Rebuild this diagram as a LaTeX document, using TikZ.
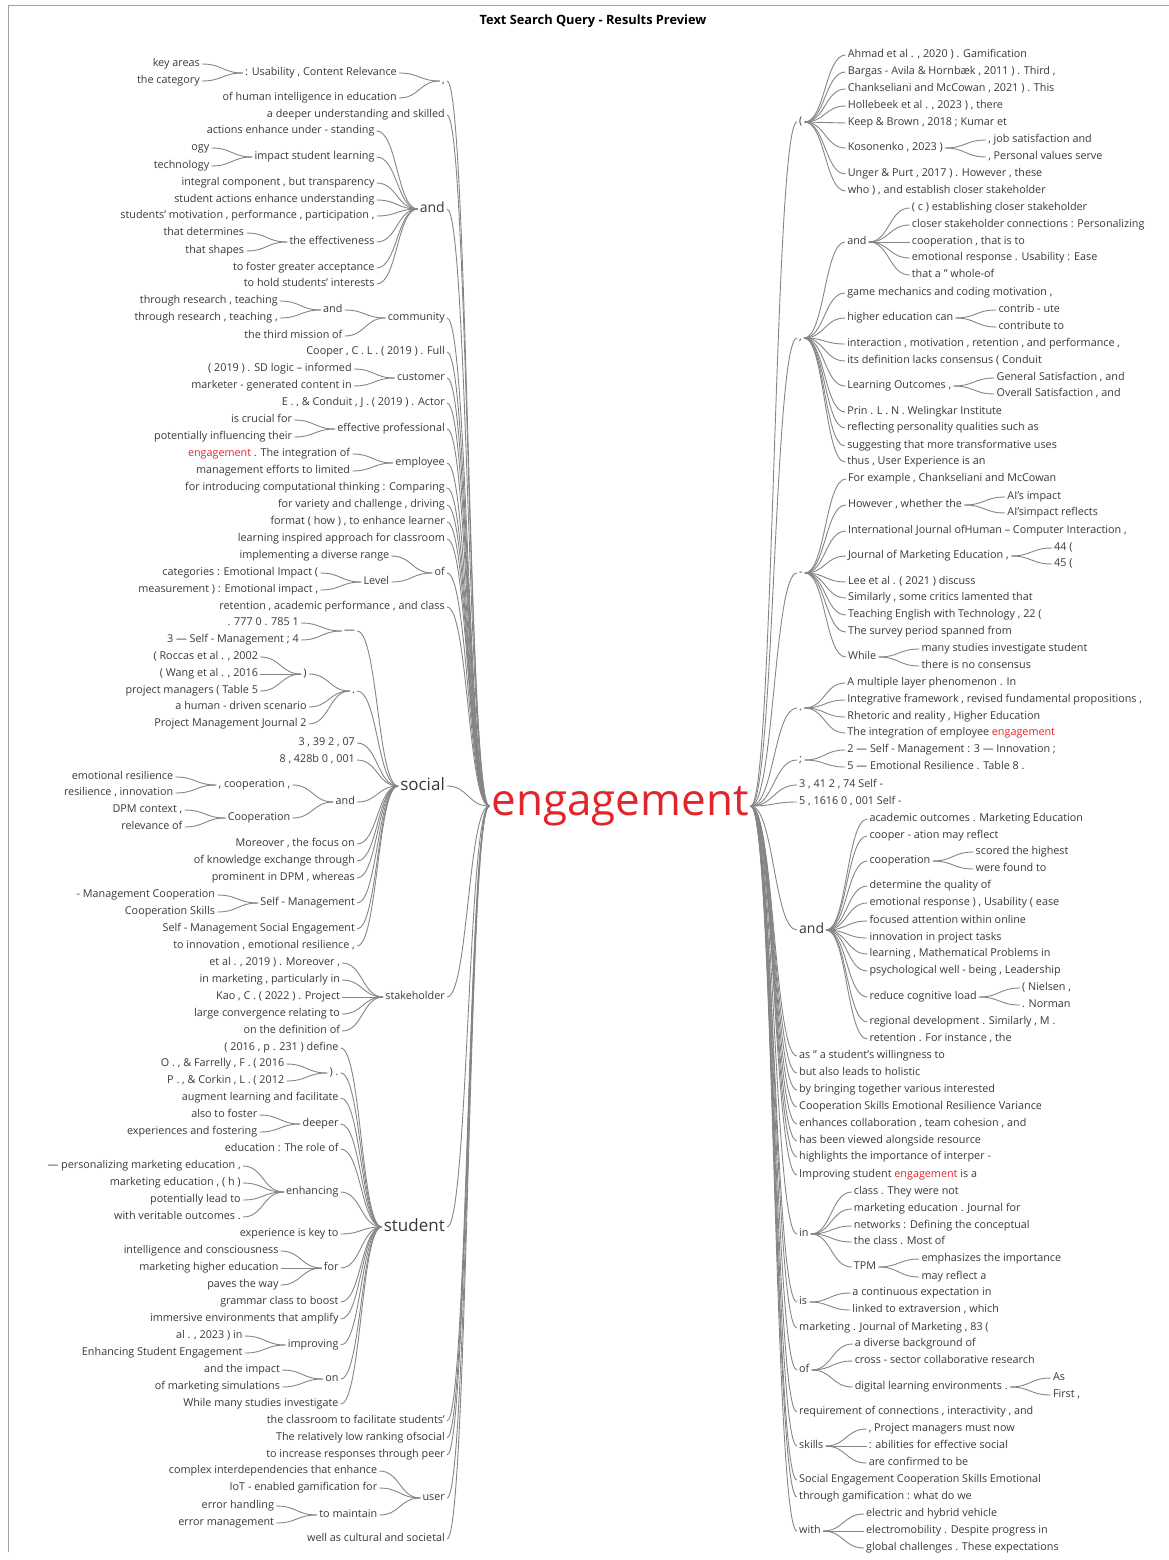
\documentclass[tikz,border=0pt]{standalone}
\usepackage{fontspec}
\setmainfont{Open Sans}
\usetikzlibrary{calc}
\definecolor{txt}{HTML}{383838}
\definecolor{hl}{HTML}{E0262B}
\definecolor{lnk}{HTML}{858585}
\definecolor{frm}{HTML}{A0A0A0}
\newcommand\HW{\textcolor{hl}{engagement}}
\def\GAP{41pt}
\tikzset{
  wt/.style={font=\fontsize{10.8}{12.5}\selectfont, text=txt, inner xsep=2pt, inner ysep=0pt, text height=7.9pt, text depth=2.3pt},
  md/.style={font=\fontsize{14}{16}\selectfont, text height=10.4pt, text depth=3pt},
  bg/.style={font=\fontsize{17}{20}\selectfont, text height=12.6pt, text depth=3.6pt},
  link/.style={draw=lnk, line width=0.9pt},
}
% curved connectors of the word tree
\newcommand\LEdge[2]{\draw[link] let \p1=(#1.west), \p2=(#2.east) in (\p1) .. controls ({(\x1+\x2)/2},\y1) and ({(\x1+\x2)/2},\y2) .. (\p2);}
\newcommand\REdge[2]{\draw[link] let \p1=(#1.east), \p2=(#2.west) in (\p1) .. controls ({(\x1+\x2)/2},\y1) and ({(\x1+\x2)/2},\y2) .. (\p2);}
% first level branches, hanging off the root word
\newcommand\LTop[4][]{\node[wt,anchor=east,#1] (#2) at (447,#3) {#4};\LEdge{root}{#2}}
\newcommand\RTop[4][]{\node[wt,anchor=west,#1] (#2) at (797,#3) {#4};\REdge{root}{#2}}
% deeper branches, placed a fixed gap away from their parent
\newcommand\LNode[5][]{\path let \p1=(#3.west) in node[wt,anchor=east,#1] (#2) at (\x1-\GAP,-#4pt) {#5};\LEdge{#3}{#2}}
\newcommand\RNode[5][]{\path let \p1=(#3.east) in node[wt,anchor=west,#1] (#2) at (\x1+\GAP,-#4pt) {#5};\REdge{#3}{#2}}
\begin{document}
\begin{tikzpicture}[x=1pt,y=-1pt]
\useasboundingbox (0,0) rectangle (1169,1560);
\draw[frm, line width=1pt] (8,1552) -- (8,6) -- (1169,6);
\node[font=\bfseries\fontsize{12.8}{15}\selectfont, text=black] (title) at (593,21) {Text Search Query - Results Preview};
\node[font=\fontsize{44}{48}\selectfont, text=hl, inner sep=2pt] (root) at (620,806) {engagement};

% ---------------- left side ----------------
\LTop{La}{81}{,}
\LNode{La1}{La}{73}{: Usability , Content Relevance}
\LNode{La1a}{La1}{64}{key areas}
\LNode{La1b}{La1}{81}{the category}
\LNode{La2}{La}{98}{of human intelligence in education}
\LTop{Lb}{115}{a deeper understanding and skilled}
\LTop[md]{Lc}{209}{and}
\LNode{Lc1}{Lc}{131}{actions enhance under - standing}
\LNode{Lc2}{Lc}{157}{impact student learning}
\LNode{Lc2a}{Lc2}{148}{ogy}
\LNode{Lc2b}{Lc2}{166}{technology}
\LNode{Lc3}{Lc}{183}{integral component , but transparency}
\LNode{Lc4}{Lc}{200}{student actions enhance understanding}
\LNode{Lc5}{Lc}{216}{students' motivation , performance , participation ,}
\LNode{Lc6}{Lc}{242}{the effectiveness}
\LNode{Lc6a}{Lc6}{233}{that determines}
\LNode{Lc6b}{Lc6}{251}{that shapes}
\LNode{Lc7}{Lc}{268}{to foster greater acceptance}
\LNode{Lc8}{Lc}{284}{to hold students' interests}
\LTop{Ld}{318}{community}
\LNode{Ld1}{Ld}{310}{and}
\LNode{Ld1a}{Ld1}{301}{through research , teaching}
\LNode{Ld1b}{Ld1}{318}{through research , teaching ,}
\LNode{Ld2}{Ld}{336}{the third mission of}
\LTop{Le}{352}{Cooper , C . L . ( 2019 ) . Full}
\LTop{Lf}{378}{customer}
\LNode{Lf1}{Lf}{369}{( 2019 ) . SD logic – informed}
\LNode{Lf2}{Lf}{386}{marketer - generated content in}
\LTop{Lg}{403}{E . , \& Conduit , J . ( 2019 ) . Actor}
\LTop{Lh}{429}{effective professional}
\LNode{Lh1}{Lh}{420}{is crucial for}
\LNode{Lh2}{Lh}{437}{potentially influencing their}
\LTop{Li}{463}{employee}
\LNode{Li1}{Li}{454}{\HW{} . The integration of}
\LNode{Li2}{Li}{471}{management efforts to limited}
\LTop{Lj}{488}{for introducing computational thinking : Comparing}
\LTop{Lk}{505}{for variety and challenge , driving}
\LTop{Ll}{522}{format ( how ) , to enhance learner}
\LTop{Lm}{539}{learning inspired approach for classroom}
\LTop{Ln}{573}{of}
\LNode{Ln1}{Ln}{556}{implementing a diverse range}
\LNode{Ln2}{Ln}{582}{Level}
\LNode{Ln2a}{Ln2}{573}{categories : Emotional Impact (}
\LNode{Ln2b}{Ln2}{590}{measurement ) : Emotional impact ,}
\LTop{Lo}{607}{retention , academic performance , and class}
\LTop[bg]{Lp}{786}{social}
\LNode{Lp1}{Lp}{631}{—}
\LNode{Lp1a}{Lp1}{623}{. 777 0 . 785 1}
\LNode{Lp1b}{Lp1}{640}{3 — Self - Management ; 4}
\LNode{Lp2}{Lp}{691}{.}
\LNode{Lp2a}{Lp2}{674}{)}
\LNode{Lp2a1}{Lp2a}{657}{( Roccas et al . , 2002}
\LNode{Lp2a2}{Lp2a}{674}{( Wang et al . , 2016}
\LNode{Lp2a3}{Lp2a}{691}{project managers ( Table 5}
\LNode{Lp2b}{Lp2}{707}{a human - driven scenario}
\LNode{Lp2c}{Lp2}{724}{Project Management Journal 2}
\LNode{Lp3}{Lp}{743}{3 , 39 2 , 07}
\LNode{Lp4}{Lp}{760}{8 , 428b 0 , 001}
\LNode{Lp5}{Lp}{802}{and}
\LNode{Lp5a}{Lp5}{785}{, cooperation ,}
\LNode{Lp5a1}{Lp5a}{777}{emotional resilience}
\LNode{Lp5a2}{Lp5a}{793}{resilience , innovation}
\LNode{Lp5b}{Lp5}{818}{Cooperation}
\LNode{Lp5b1}{Lp5b}{810}{DPM context ,}
\LNode{Lp5b2}{Lp5b}{827}{relevance of}
\LNode{Lp6}{Lp}{844}{Moreover , the focus on}
\LNode{Lp7}{Lp}{861}{of knowledge exchange through}
\LNode{Lp8}{Lp}{878}{prominent in DPM , whereas}
\LNode{Lp9}{Lp}{903}{Self - Management}
\LNode{Lp9a}{Lp9}{895}{- Management Cooperation}
\LNode{Lp9b}{Lp9}{912}{Cooperation Skills}
\LNode{Lp10}{Lp}{929}{Self - Management Social Engagement}
\LNode{Lp11}{Lp}{946}{to innovation , emotional resilience ,}
\LTop{Lq}{997}{stakeholder}
\LNode{Lq1}{Lq}{963}{et al . , 2019 ) . Moreover ,}
\LNode{Lq2}{Lq}{980}{in marketing , particularly in}
\LNode{Lq3}{Lq}{997}{Kao , C . ( 2022 ) . Project}
\LNode{Lq4}{Lq}{1014}{large convergence relating to}
\LNode{Lq5}{Lq}{1031}{on the definition of}
\LTop[bg]{Lr}{1227}{student}
\LNode{Lr1}{Lr}{1048}{( 2016 , p . 231 ) define}
\LNode{Lr2}{Lr}{1073}{) .}
\LNode{Lr2a}{Lr2}{1064}{O . , \& Farrelly , F . ( 2016}
\LNode{Lr2b}{Lr2}{1081}{P . , \& Corkin , L . ( 2012}
\LNode{Lr3}{Lr}{1098}{augment learning and facilitate}
\LNode{Lr4}{Lr}{1124}{deeper}
\LNode{Lr4a}{Lr4}{1115}{also to foster}
\LNode{Lr4b}{Lr4}{1132}{experiences and fostering}
\LNode{Lr5}{Lr}{1149}{education : The role of}
\LNode{Lr6}{Lr}{1192}{enhancing}
\LNode{Lr6a}{Lr6}{1166}{— personalizing marketing education ,}
\LNode{Lr6b}{Lr6}{1183}{marketing education , ( h )}
\LNode{Lr6c}{Lr6}{1200}{potentially lead to}
\LNode{Lr6d}{Lr6}{1217}{with veritable outcomes .}
\LNode{Lr7}{Lr}{1234}{experience is key to}
\LNode{Lr8}{Lr}{1268}{for}
\LNode{Lr8a}{Lr8}{1251}{intelligence and consciousness}
\LNode{Lr8b}{Lr8}{1268}{marketing higher education}
\LNode{Lr8c}{Lr8}{1285}{paves the way}
\LNode{Lr9}{Lr}{1302}{grammar class to boost}
\LNode{Lr10}{Lr}{1319}{immersive environments that amplify}
\LNode{Lr11}{Lr}{1345}{improving}
\LNode{Lr11a}{Lr11}{1336}{al . , 2023 ) in}
\LNode{Lr11b}{Lr11}{1353}{Enhancing Student Engagement}
\LNode{Lr12}{Lr}{1379}{on}
\LNode{Lr12a}{Lr12}{1370}{and the impact}
\LNode{Lr12b}{Lr12}{1387}{of marketing simulations}
\LNode{Lr13}{Lr}{1404}{While many studies investigate}
\LTop{Ls}{1421}{the classroom to facilitate students'}
\LTop{Lt}{1438}{The relatively low ranking ofsocial}
\LTop{Lu}{1455}{to increase responses through peer}
\LTop{Lv}{1498}{user}
\LNode{Lv1}{Lv}{1471}{complex interdependencies that enhance}
\LNode{Lv2}{Lv}{1488}{IoT - enabled gamification for}
\LNode{Lv3}{Lv}{1515}{to maintain}
\LNode{Lv3a}{Lv3}{1506}{error handling}
\LNode{Lv3b}{Lv3}{1523}{error management}
\LTop{Lw}{1539}{well as cultural and societal}

% ---------------- right side ----------------
\RTop{Ra}{122}{(}
\RNode{Ra1}{Ra}{55}{Ahmad et al . , 2020 ) . Gamification}
\RNode{Ra2}{Ra}{72}{Bargas - Avila \& Hornbæk , 2011 ) . Third ,}
\RNode{Ra3}{Ra}{89}{Chankseliani and McCowan , 2021 ) . This}
\RNode{Ra4}{Ra}{106}{Hollebeek et al . , 2023 ) , there}
\RNode{Ra5}{Ra}{123}{Keep \& Brown , 2018 ; Kumar et}
\RNode{Ra6}{Ra}{148}{Kosonenko , 2023 )}
\RNode{Ra6a}{Ra6}{140}{, job satisfaction and}
\RNode{Ra6b}{Ra6}{157}{, Personal values serve}
\RNode{Ra7}{Ra}{174}{Unger \& Purt , 2017 ) . However , these}
\RNode{Ra8}{Ra}{191}{who ) , and establish closer stakeholder}
\RTop{Rb}{338}{,}
\RNode{Rb1}{Rb}{242}{and}
\RNode{Rb1a}{Rb1}{208}{( c ) establishing closer stakeholder}
\RNode{Rb1b}{Rb1}{225}{closer stakeholder connections : Personalizing}
\RNode{Rb1c}{Rb1}{242}{cooperation , that is to}
\RNode{Rb1d}{Rb1}{258}{emotional response . Usability : Ease}
\RNode{Rb1e}{Rb1}{275}{that a " whole-of}
\RNode{Rb2}{Rb}{293}{game mechanics and coding motivation ,}
\RNode{Rb3}{Rb}{318}{higher education can}
\RNode{Rb3a}{Rb3}{310}{contrib - ute}
\RNode{Rb3b}{Rb3}{327}{contribute to}
\RNode{Rb4}{Rb}{344}{interaction , motivation , retention , and performance ,}
\RNode{Rb5}{Rb}{361}{its definition lacks consensus ( Conduit}
\RNode{Rb6}{Rb}{386}{Learning Outcomes ,}
\RNode{Rb6a}{Rb6}{378}{General Satisfaction , and}
\RNode{Rb6b}{Rb6}{394}{Overall Satisfaction , and}
\RNode{Rb7}{Rb}{412}{Prin . L . N . Welingkar Institute}
\RNode{Rb8}{Rb}{428}{reflecting personality qualities such as}
\RNode{Rb9}{Rb}{446}{suggesting that more transformative uses}
\RNode{Rb10}{Rb}{462}{thus , User Experience is an}
\RTop{Rc}{573}{-}
\RNode{Rc1}{Rc}{479}{For example , Chankseliani and McCowan}
\RNode{Rc2}{Rc}{505}{However , whether the}
\RNode{Rc2a}{Rc2}{497}{AI's impact}
\RNode{Rc2b}{Rc2}{513}{AI'simpact reflects}
\RNode{Rc3}{Rc}{531}{International Journal ofHuman – Computer Interaction ,}
\RNode{Rc4}{Rc}{556}{Journal of Marketing Education ,}
\RNode{Rc4a}{Rc4}{548}{44 (}
\RNode{Rc4b}{Rc4}{564}{45 (}
\RNode{Rc5}{Rc}{582}{Lee et al . ( 2021 ) discuss}
\RNode{Rc6}{Rc}{598}{Similarly , some critics lamented that}
\RNode{Rc7}{Rc}{615}{Teaching English with Technology , 22 (}
\RNode{Rc8}{Rc}{632}{The survey period spanned from}
\RNode{Rc9}{Rc}{657}{While}
\RNode{Rc9a}{Rc9}{649}{many studies investigate student}
\RNode{Rc9b}{Rc9}{666}{there is no consensus}
\RTop{Rd}{708}{.}
\RNode{Rd1}{Rd}{683}{A multiple layer phenomenon . In}
\RNode{Rd2}{Rd}{700}{Integrative framework , revised fundamental propositions ,}
\RNode{Rd3}{Rd}{717}{Rhetoric and reality , Higher Education}
\RNode{Rd4}{Rd}{733}{The integration of employee \HW}
\RTop{Re}{760}{;}
\RNode{Re1}{Re}{750}{2 — Self - Management : 3 — Innovation ;}
\RNode{Re2}{Re}{767}{5 — Emotional Resilience . Table 8 .}
\RTop{Rf}{785}{3 , 41 2 , 74 Self -}
\RTop{Rg}{802}{5 , 1616 0 , 001 Self -}
\RTop[md]{Rh}{930}{and}
\RNode{Rh1}{Rh}{819}{academic outcomes . Marketing Education}
\RNode{Rh2}{Rh}{836}{cooper - ation may reflect}
\RNode{Rh3}{Rh}{861}{cooperation}
\RNode{Rh3a}{Rh3}{852}{scored the highest}
\RNode{Rh3b}{Rh3}{869}{were found to}
\RNode{Rh4}{Rh}{886}{determine the quality of}
\RNode{Rh5}{Rh}{903}{emotional response ) , Usability ( ease}
\RNode{Rh6}{Rh}{921}{focused attention within online}
\RNode{Rh7}{Rh}{938}{innovation in project tasks}
\RNode{Rh8}{Rh}{954}{learning , Mathematical Problems in}
\RNode{Rh9}{Rh}{971}{psychological well - being , Leadership}
\RNode{Rh10}{Rh}{997}{reduce cognitive load}
\RNode{Rh10a}{Rh10}{988}{( Nielsen ,}
\RNode{Rh10b}{Rh10}{1005}{. Norman}
\RNode{Rh11}{Rh}{1022}{regional development . Similarly , M .}
\RNode{Rh12}{Rh}{1039}{retention . For instance , the}
\RTop{Ri}{1056}{as " a student's willingness to}
\RTop{Rj}{1073}{but also leads to holistic}
\RTop{Rk}{1090}{by bringing together various interested}
\RTop{Rl}{1107}{Cooperation Skills Emotional Resilience Variance}
\RTop{Rm}{1124}{enhances collaboration , team cohesion , and}
\RTop{Rn}{1141}{has been viewed alongside resource}
\RTop{Ro}{1157}{highlights the importance of interper -}
\RTop{Rp}{1175}{Improving student \HW{} is a}
\RTop{Rq}{1234}{in}
\RNode{Rq1}{Rq}{1192}{class . They were not}
\RNode{Rq2}{Rq}{1209}{marketing education . Journal for}
\RNode{Rq3}{Rq}{1226}{networks : Defining the conceptual}
\RNode{Rq4}{Rq}{1242}{the class . Most of}
\RNode{Rq5}{Rq}{1267}{TPM}
\RNode{Rq5a}{Rq5}{1259}{emphasizes the importance}
\RNode{Rq5b}{Rq5}{1277}{may reflect a}
\RTop{Rr}{1302}{is}
\RNode{Rr1}{Rr}{1293}{a continuous expectation in}
\RNode{Rr2}{Rr}{1310}{linked to extraversion , which}
\RTop{Rs}{1328}{marketing . Journal of Marketing , 83 (}
\RTop{Rt}{1370}{of}
\RNode{Rt1}{Rt}{1344}{a diverse background of}
\RNode{Rt2}{Rt}{1361}{cross - sector collaborative research}
\RNode{Rt3}{Rt}{1387}{digital learning environments .}
\RNode{Rt3a}{Rt3}{1378}{As}
\RNode{Rt3b}{Rt3}{1395}{First ,}
\RTop{Ru}{1412}{requirement of connections , interactivity , and}
\RTop{Rv}{1446}{skills}
\RNode{Rv1}{Rv}{1429}{, Project managers must now}
\RNode{Rv2}{Rv}{1446}{: abilities for effective social}
\RNode{Rv3}{Rv}{1463}{are confirmed to be}
\RTop{Rw}{1480}{Social Engagement Cooperation Skills Emotional}
\RTop{Rx}{1497}{through gamification : what do we}
\RTop{Ry}{1531}{with}
\RNode{Ry1}{Ry}{1514}{electric and hybrid vehicle}
\RNode{Ry2}{Ry}{1531}{electromobility . Despite progress in}
\RNode{Ry3}{Ry}{1548}{global challenges . These expectations}
\end{tikzpicture}
\end{document}
